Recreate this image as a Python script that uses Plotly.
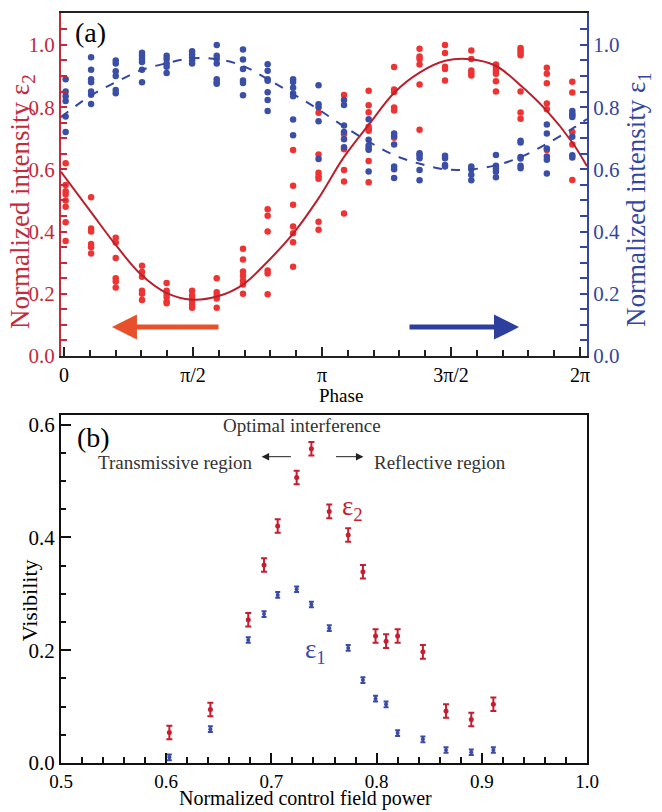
import numpy as np
import plotly.graph_objects as go

# ---------------- Panel (a) data ----------------
phase_cols = [0.02, 0.33, 0.63, 0.95, 1.25, 1.56, 1.86, 2.18, 2.48, 2.79, 3.10,
              3.41, 3.71, 4.02, 4.33, 4.64, 4.96, 5.26, 5.56, 5.88, 6.19]

e2_cols = [
    [0.62, 0.55, 0.53, 0.52, 0.50, 0.48, 0.43, 0.37],
    [0.51, 0.41, 0.40, 0.36, 0.35, 0.33],
    [0.38, 0.365, 0.315, 0.25, 0.24, 0.22],
    [0.29, 0.27, 0.255, 0.21, 0.20, 0.18],
    [0.235, 0.21, 0.20, 0.19, 0.175, 0.17],
    [0.21, 0.195, 0.185, 0.175, 0.165, 0.155],
    [0.25, 0.205, 0.195, 0.185, 0.155],
    [0.345, 0.31, 0.272, 0.258, 0.243, 0.23, 0.20],
    [0.472, 0.451, 0.40, 0.275, 0.265, 0.199],
    [0.662, 0.547, 0.486, 0.416, 0.395, 0.366, 0.287],
    [0.782, 0.648, 0.589, 0.578, 0.570, 0.432, 0.406],
    [0.839, 0.713, 0.665, 0.598, 0.561, 0.458],
    [0.853, 0.806, 0.784, 0.737, 0.728, 0.724, 0.627, 0.559],
    [0.929, 0.857, 0.849, 0.799, 0.789, 0.702],
    [0.988, 0.963, 0.955, 0.937, 0.873, 0.727],
    [1.0, 0.974, 0.93, 0.923, 0.886],
    [0.982, 0.955, 0.918, 0.91, 0.902],
    [0.937, 0.927, 0.917, 0.907, 0.883, 0.85],
    [0.99, 0.982, 0.975, 0.967, 0.85, 0.783, 0.763],
    [0.927, 0.907, 0.877, 0.812, 0.793, 0.662],
    [0.882, 0.847, 0.775, 0.72, 0.68, 0.566],
]

e1_cols = [
    [0.89, 0.85, 0.835, 0.82, 0.77, 0.72],
    [0.96, 0.92, 0.89, 0.88, 0.85, 0.84, 0.81],
    [0.95, 0.94, 0.915, 0.90, 0.855, 0.845],
    [0.975, 0.965, 0.955, 0.945, 0.92, 0.88],
    [0.965, 0.955, 0.94, 0.93, 0.91],
    [0.98, 0.97, 0.96, 0.95, 0.94],
    [1.0, 0.965, 0.955, 0.94, 0.89, 0.88, 0.875],
    [0.985, 0.953, 0.923, 0.886, 0.878, 0.838],
    [0.938, 0.917, 0.89, 0.885, 0.848, 0.823, 0.788],
    [0.89, 0.881, 0.862, 0.844, 0.835, 0.76, 0.71],
    [0.87, 0.809, 0.80, 0.755, 0.633],
    [0.823, 0.807, 0.741, 0.72, 0.697, 0.671],
    [0.761, 0.695, 0.677, 0.669, 0.663, 0.593],
    [0.715, 0.707, 0.68, 0.609, 0.60, 0.572],
    [0.652, 0.645, 0.636, 0.598, 0.565],
    [0.644, 0.636, 0.614, 0.609],
    [0.609, 0.60, 0.583, 0.565],
    [0.646, 0.612, 0.603, 0.592, 0.575],
    [0.692, 0.686, 0.64, 0.635, 0.612, 0.604],
    [0.744, 0.715, 0.667, 0.641, 0.631, 0.587],
    [0.788, 0.778, 0.768, 0.705, 0.645, 0.638],
]

# fitted curves
fit_phase = [-0.037, 0.325, 0.630, 0.941, 1.246, 1.559, 1.872, 2.176, 2.481, 2.792, 3.097,
             3.410, 3.718, 4.027, 4.335, 4.643, 4.952, 5.257, 5.565, 5.878, 6.186, 6.369]
fit_e2 = [0.592, 0.464, 0.357, 0.261, 0.203, 0.181, 0.192, 0.229, 0.304, 0.394, 0.506,
          0.640, 0.746, 0.848, 0.912, 0.949, 0.954, 0.933, 0.869, 0.789, 0.688, 0.610]
fit_e1 = [0.768, 0.837, 0.880, 0.919, 0.941, 0.957, 0.954, 0.933, 0.890, 0.842, 0.793,
          0.738, 0.688, 0.645, 0.618, 0.600, 0.600, 0.613, 0.640, 0.682, 0.730, 0.762]

phase_tickvals = [0, np.pi / 2, np.pi, 3 * np.pi / 2, 2 * np.pi]
phase_ticktext = ["0", "π/2", "π", "3π/2", "2π"]

# ---------------- Panel (b) data ----------------
power = [0.603, 0.642, 0.678, 0.693, 0.706, 0.724, 0.738, 0.755, 0.773, 0.787,
         0.799, 0.809, 0.820, 0.844, 0.866, 0.890, 0.911]
vis_e2 = [0.054, 0.095, 0.254, 0.351, 0.420, 0.506, 0.557, 0.446, 0.404, 0.339,
          0.225, 0.216, 0.225, 0.197, 0.092, 0.077, 0.104]
err_e2 = [0.012, 0.012, 0.012, 0.012, 0.012, 0.012, 0.012, 0.012, 0.012, 0.012,
          0.012, 0.012, 0.012, 0.012, 0.012, 0.012, 0.012]
vis_e1 = [0.010, 0.060, 0.218, 0.264, 0.298, 0.308, 0.281, 0.239, 0.204, 0.147,
          0.114, 0.104, 0.053, 0.042, 0.023, 0.019, 0.023]
err_e1 = [0.005, 0.005, 0.005, 0.005, 0.005, 0.005, 0.005, 0.005, 0.005, 0.005,
          0.005, 0.005, 0.005, 0.005, 0.005, 0.005, 0.005]

# ---------------- styles ----------------
FONT = "Liberation Serif"
RED_PT = "#EE3333"
BLUE_PT = "#3B4FA6"
RED_LINE = "#B8202E"
BLUE_LINE = "#34469E"
RED_AX = "#C42A3C"
BLUE_AX = "#34469E"
RED_B = "#C41E30"
BLUE_B = "#3B4BA8"
TICK_SIZE = 21

def flatten(xs, cols):
    fx, fy = [], []
    for x, col in zip(xs, cols):
        for v in col:
            fx.append(x)
            fy.append(v)
    return fx, fy

e1x, e1y = flatten(phase_cols, e1_cols)
e2x, e2y = flatten(phase_cols, e2_cols)

fig = go.Figure()

fig.add_trace(go.Scatter(x=e1x, y=e1y, mode="markers", xaxis="x", yaxis="y2",
                         marker=dict(color=BLUE_PT, size=6.5, line=dict(width=0)),
                         showlegend=False))
fig.add_trace(go.Scatter(x=e2x, y=e2y, mode="markers", xaxis="x", yaxis="y",
                         marker=dict(color=RED_PT, size=6.5, line=dict(width=0)),
                         showlegend=False))
fig.add_trace(go.Scatter(x=fit_phase, y=fit_e1, mode="lines", xaxis="x", yaxis="y2",
                         line=dict(color=BLUE_LINE, width=2, dash="dash", shape="spline"),
                         showlegend=False))
fig.add_trace(go.Scatter(x=fit_phase, y=fit_e2, mode="lines", xaxis="x", yaxis="y",
                         line=dict(color=RED_LINE, width=2, shape="spline"),
                         showlegend=False))

# panel b
fig.add_trace(go.Scatter(x=power, y=vis_e1, mode="markers", xaxis="x2", yaxis="y3",
                         marker=dict(color=BLUE_B, size=4),
                         error_y=dict(type="data", array=err_e1, color=BLUE_B,
                                      thickness=2, width=2.5),
                         showlegend=False))
fig.add_trace(go.Scatter(x=power, y=vis_e2, mode="markers", xaxis="x2", yaxis="y3",
                         marker=dict(color=RED_B, size=5),
                         error_y=dict(type="data", array=err_e2, color=RED_B,
                                      thickness=2, width=3),
                         showlegend=False))

TOP_DOM = [0.5426, 1.0]
BOT_DOM = [0.0, 0.4641]
tickfont = dict(family=FONT, size=TICK_SIZE)

fig.update_layout(
    width=662, height=812,
    margin=dict(l=61, r=75, t=11, b=49),
    paper_bgcolor="white", plot_bgcolor="white",
    font=dict(family=FONT, color="black"),
    xaxis=dict(domain=[0, 1], anchor="y", range=[-0.0365, 6.369],
               tickmode="array", tickvals=phase_tickvals, ticktext=phase_ticktext,
               ticks="inside", ticklen=9, tickwidth=2, tickcolor="#222",
               minor=dict(tickmode="linear", tick0=0, dtick=np.pi / 10, ticks="inside",
                          ticklen=6, tickwidth=2, tickcolor="#222", showgrid=False),
               showline=True, linecolor="#222", linewidth=2, mirror=True,
               showgrid=False, zeroline=False, tickfont=dict(family=FONT, size=20)),
    yaxis=dict(domain=TOP_DOM, anchor="x", range=[0, 1.1026],
               tickmode="linear", tick0=0, dtick=0.2, tickformat=".1f",
               ticks="inside", ticklen=6, tickwidth=2, tickcolor=RED_AX,
               minor=dict(tickmode="linear", tick0=0, dtick=0.05, ticks="inside",
                          ticklen=6, tickwidth=2, tickcolor=RED_AX, showgrid=False),
               showline=True, linecolor=RED_AX, linewidth=2,
               showgrid=False, zeroline=False,
               tickfont=dict(family=FONT, size=TICK_SIZE, color=RED_AX)),
    yaxis2=dict(overlaying="y", side="right", anchor="x", range=[0, 1.1026],
                tickmode="linear", tick0=0, dtick=0.2, tickformat=".1f",
                ticks="inside", ticklen=7, tickwidth=2, tickcolor=BLUE_AX,
                minor=dict(tickmode="linear", tick0=0, dtick=0.05, ticks="inside",
                           ticklen=7, tickwidth=2, tickcolor=BLUE_AX, showgrid=False),
                showline=True, linecolor=BLUE_AX, linewidth=2,
                showgrid=False, zeroline=False,
                tickfont=dict(family=FONT, size=TICK_SIZE, color=BLUE_AX)),
    xaxis2=dict(domain=[0, 1], anchor="y3", range=[0.5, 1.0],
                tickmode="linear", tick0=0.5, dtick=0.1, tickformat=".1f",
                ticks="inside", ticklen=10, tickwidth=2, tickcolor="#111",
                minor=dict(tickmode="linear", tick0=0.5, dtick=0.02, ticks="inside",
                           ticklen=6, tickwidth=2, tickcolor="#111", showgrid=False),
                showline=True, linecolor="#111", linewidth=2, mirror=True,
                showgrid=False, zeroline=False, tickfont=dict(family=FONT, size=19)),
    yaxis3=dict(domain=BOT_DOM, anchor="x2", range=[0, 0.617],
                tickmode="linear", tick0=0, dtick=0.2, tickformat=".1f",
                ticks="inside", ticklen=10, tickwidth=2, tickcolor="#111",
                minor=dict(tickmode="linear", tick0=0, dtick=0.05, ticks="inside",
                           ticklen=5, tickwidth=2, tickcolor="#111", showgrid=False),
                showline=True, linecolor="#111", linewidth=2, mirror=True,
                showgrid=False, zeroline=False, tickfont=tickfont),
)

ann = []
C = dict(xanchor="center", yanchor="middle", showarrow=False)
# axis titles
ann.append(dict(text="Normalized intensity ε<sub>2</sub>", xref="paper", yref="paper",
                x=-0.073, y=0.7487, textangle=-90,
                font=dict(family=FONT, size=27, color=RED_AX), **C))
ann.append(dict(text="Normalized intensity ε<sub>1</sub>", xref="paper", yref="paper",
                x=1.097, y=0.7507, textangle=-90,
                font=dict(family=FONT, size=27, color=BLUE_AX), **C))
ann.append(dict(text="Phase", xref="paper", yref="paper", x=0.532, y=0.4894,
                font=dict(family=FONT, size=19, color="black"), **C))
ann.append(dict(text="Visibility", xref="paper", yref="paper", x=-0.061, y=0.2168,
                textangle=-90, font=dict(family=FONT, size=22, color="black"), **C))
ann.append(dict(text="Normalized control field power", xref="paper", yref="paper",
                x=0.464, y=-0.0479,
                font=dict(family=FONT, size=20, color="black"), **C))
# panel labels
ann.append(dict(text="(a)", xref="paper", yref="paper", x=0.022, y=0.998,
                xanchor="left", yanchor="top", showarrow=False,
                font=dict(family=FONT, size=28, color="black")))
ann.append(dict(text="(b)", xref="paper", yref="paper", x=0.026, y=0.4568,
                xanchor="left", yanchor="top", showarrow=False,
                font=dict(family=FONT, size=28, color="black")))
# direction arrows in (a)
ann.append(dict(x=0.584, y=0.093, ax=1.90, ay=0.093, xref="x", yref="y",
                axref="x", ayref="y", text="", showarrow=True, arrowhead=2,
                arrowsize=1, arrowwidth=5, arrowcolor="#E8502B", standoff=0))
ann.append(dict(x=5.541, y=0.093, ax=4.189, ay=0.093, xref="x", yref="y",
                axref="x", ayref="y", text="", showarrow=True, arrowhead=2,
                arrowsize=1, arrowwidth=5, arrowcolor="#2C3E9E", standoff=0))
# panel (b) annotations
TXT = "#333333"
ann.append(dict(text="Optimal interference", x=0.7287, y=0.598, xref="x2", yref="y3",
                showarrow=False, font=dict(family=FONT, size=19, color=TXT)))
ann.append(dict(text="Transmissive region", x=0.683, y=0.532, xref="x2", yref="y3",
                xanchor="right", showarrow=False, font=dict(family=FONT, size=19, color=TXT)))
ann.append(dict(text="Reflective region", x=0.796, y=0.532, xref="x2", yref="y3",
                xanchor="left", showarrow=False, font=dict(family=FONT, size=19, color=TXT)))
ann.append(dict(x=0.6907, y=0.543, ax=0.720, ay=0.543, xref="x2", yref="y3",
                axref="x2", ayref="y3", text="", showarrow=True, arrowhead=2,
                arrowsize=1.5, arrowwidth=1, arrowcolor="#222", standoff=0))
ann.append(dict(x=0.7875, y=0.543, ax=0.760, ay=0.543, xref="x2", yref="y3",
                axref="x2", ayref="y3", text="", showarrow=True, arrowhead=2,
                arrowsize=1.5, arrowwidth=1, arrowcolor="#222", standoff=0))
ann.append(dict(text="ε<sub>2</sub>", x=0.765, y=0.452, xref="x2", yref="y3",
                xanchor="left", showarrow=False, font=dict(family=FONT, size=27, color=RED_B)))
ann.append(dict(text="ε<sub>1</sub>", x=0.730, y=0.198, xref="x2", yref="y3",
                xanchor="left", showarrow=False, font=dict(family=FONT, size=27, color=BLUE_B)))

fig.update_layout(annotations=ann)
fig.write_html("out.html")
